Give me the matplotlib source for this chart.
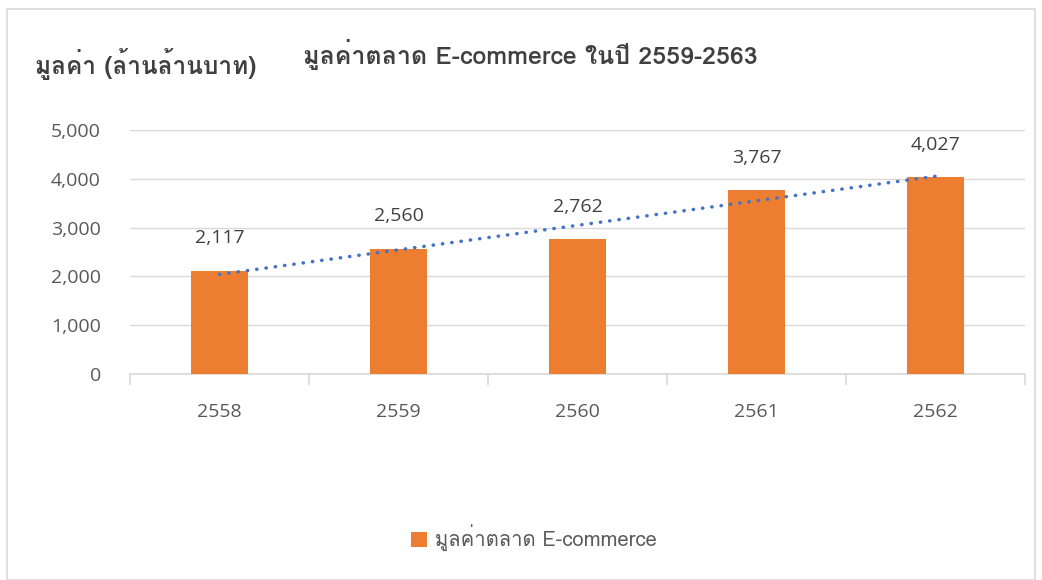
import numpy as np
import matplotlib
matplotlib.use("Agg")
import matplotlib.pyplot as plt
from matplotlib import font_manager
from matplotlib.ft2font import FT2Font
from matplotlib.patches import Rectangle

years = ["2558", "2559", "2560", "2561", "2562"]
values = [2117, 2560, 2762, 3767, 4027]
title = "มูลค่าตลาด E-commerce ในปี 2559-2563"
ylabel = "มูลค่า (ล้านล้านบาท)"
series_name = "มูลค่าตลาด E-commerce"


# find a font that has Thai glyphs
def thai_family():
    seen = set()
    for f in font_manager.fontManager.ttflist:
        if f.name in seen:
            continue
        seen.add(f.name)
        try:
            if 0x0E21 in FT2Font(f.fname).get_charmap():
                return f.name
        except Exception:
            pass
    return None


fam = thai_family()
thai = ([fam] if fam else []) + ["DejaVu Sans"]
latin = ["Open Sans", "DejaVu Sans"]
plt.rcParams["font.family"] = latin

fig = plt.figure(figsize=(10.42, 5.8), dpi=100)
fig.patches.append(Rectangle((7 / 1042, 0), 1028 / 1042, 571 / 580, transform=fig.transFigure,
                             fill=False, edgecolor="#d9d9d9", linewidth=1.2))
ax = fig.add_axes([130 / 1042, 1 - 374 / 580, 895 / 1042, 244 / 580])

x = np.arange(len(years))
ax.bar(x, values, width=0.32, color="#ED7D31", zorder=3, label=series_name)
for xi, v in zip(x, values):
    ax.annotate(f"{v:,}", (xi, v), xytext=(0, 17), textcoords="offset points",
                ha="center", va="bottom", fontsize=14, color="#404040")

k, b = np.polyfit(x, values, 1)
ax.plot(x, k * x + b, linestyle=(0, (0.1, 2.6)), dash_capstyle="round",
        color="#4472C4", linewidth=2.5, zorder=4)

ax.set_xlim(-0.5, len(years) - 0.5)
ax.set_ylim(0, 5000)
ax.set_yticks(range(0, 5001, 1000))
ax.set_yticklabels([f"{t:,}" for t in range(0, 5001, 1000)])
ax.yaxis.grid(True, color="#d9d9d9", linewidth=1)
ax.set_axisbelow(True)
ax.tick_params(axis="y", length=0, pad=21, labelsize=14, labelcolor="#595959")

ax.set_xticks(x)
ax.set_xticklabels(years)
ax.set_xticks(np.arange(-0.5, len(years)), minor=True)
ax.tick_params(axis="x", which="major", length=0, pad=21, labelsize=14, labelcolor="#595959")
ax.tick_params(axis="x", which="minor", length=8, width=1.2, color="#d9d9d9")

for s in ["top", "right", "left"]:
    ax.spines[s].set_visible(False)
ax.spines["bottom"].set_color("#d9d9d9")
ax.spines["bottom"].set_linewidth(1.2)

fig.text(530 / 1042, 1 - 54 / 580, title, ha="center", va="center", fontsize=18,
         fontweight="bold", color="#404040", family=thai)
fig.text(35 / 1042, 1 - 64 / 580, ylabel, ha="left", va="center", fontsize=17.6,
         fontweight="bold", color="#404040", family=thai)

fig.legend(loc="center", bbox_to_anchor=(534 / 1042, 1 - 538 / 580), frameon=False,
           prop={"family": thai, "size": 14.6}, handlelength=0.8, handleheight=0.8,
           handletextpad=0.4, labelcolor="#595959")

fig.savefig("out.png", dpi=100)
